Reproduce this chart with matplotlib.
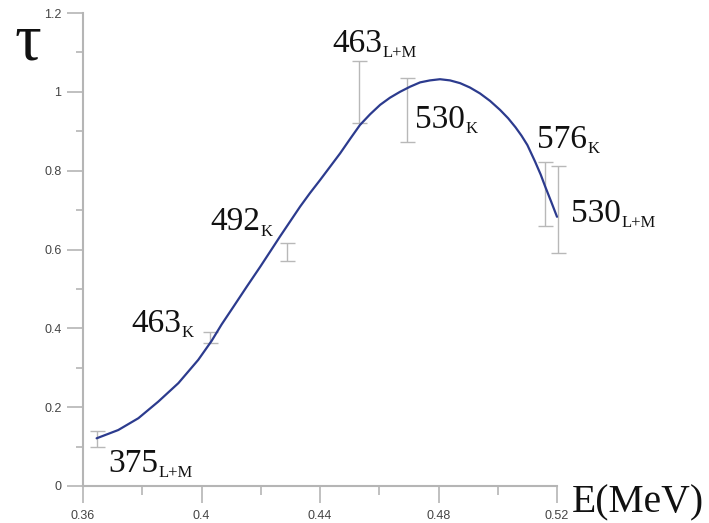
import matplotlib
matplotlib.use("Agg")
import matplotlib.pyplot as plt
import numpy as np

# ---- data ----
curve_E = [0.3646, 0.3719, 0.3787, 0.3854, 0.3922, 0.3989, 0.4034, 0.4068, 0.4108,
           0.4153, 0.4198, 0.4232, 0.4265, 0.4299, 0.4333, 0.4366, 0.4400, 0.4434,
           0.4468, 0.4502, 0.4535, 0.4569, 0.4603, 0.4636, 0.4670, 0.4704, 0.4738,
           0.4771, 0.4805, 0.4839, 0.4873, 0.4906, 0.4940, 0.4974, 0.5008, 0.5035,
           0.5060, 0.5080, 0.5100, 0.5126, 0.5145, 0.5160, 0.5180, 0.5200]
curve_tau = [0.121, 0.142, 0.172, 0.214, 0.261, 0.320, 0.368, 0.410, 0.455,
             0.506, 0.556, 0.595, 0.633, 0.671, 0.709, 0.743, 0.776, 0.810,
             0.844, 0.881, 0.916, 0.943, 0.967, 0.985, 1.000, 1.013, 1.024,
             1.029, 1.032, 1.029, 1.022, 1.011, 0.996, 0.977, 0.954, 0.933,
             0.910, 0.889, 0.865, 0.823, 0.790, 0.760, 0.722, 0.683]

err_E = [0.3647, 0.4029, 0.4289, 0.4533, 0.4692, 0.5160, 0.5203]
err_lo = [0.099, 0.363, 0.571, 0.920, 0.873, 0.660, 0.591]
err_hi = [0.140, 0.391, 0.616, 1.078, 1.034, 0.821, 0.812]

label_main = ["375", "463", "492", "463", "530", "576", "530"]
label_sub = ["L+M", "K", "K", "L+M", "K", "K", "L+M"]
# label anchor positions (left, baseline) in data coords
label_pos = [(0.3684, 0.036), (0.3762, 0.391), (0.4029, 0.649), (0.4441, 1.101),
             (0.4721, 0.908), (0.5133, 0.858), (0.5247, 0.670)]

x_ticks = [0.36, 0.40, 0.44, 0.48, 0.52]
x_ticklabels = ["0.36", "0.4", "0.44", "0.48", "0.52"]
y_ticks = [0, 0.2, 0.4, 0.6, 0.8, 1.0, 1.2]
y_ticklabels = ["0", "0.2", "0.4", "0.6", "0.8", "1", "1.2"]

W, H = 709, 523
fig = plt.figure(figsize=(W / 100, H / 100), dpi=100)
ax = fig.add_axes([83 / W, 1 - 486 / H, (557 - 83) / W, (486 - 13) / H])

ax.set_xlim(0.36, 0.52)
ax.set_ylim(0, 1.2)

spine_col = "#b5b5b5"
for s in ["top", "right"]:
    ax.spines[s].set_visible(False)
for s in ["left", "bottom"]:
    ax.spines[s].set_color(spine_col)
    ax.spines[s].set_linewidth(1.5)

ax.set_xticks(x_ticks)
ax.set_xticklabels(x_ticklabels)
ax.set_yticks(y_ticks)
ax.set_yticklabels(y_ticklabels)
ax.set_xticks([0.38, 0.42, 0.46, 0.50], minor=True)
ax.set_yticks([0.1, 0.3, 0.5, 0.7, 0.9, 1.1], minor=True)
ax.tick_params(axis="both", which="both", direction="out", color=spine_col, width=1.2,
               labelcolor="#444444", labelsize=9)
ax.tick_params(axis="y", which="major", length=11.5, pad=4)
ax.tick_params(axis="y", which="minor", length=5)
ax.tick_params(axis="x", which="major", length=12, pad=5.5)
ax.tick_params(axis="x", which="minor", length=6.5)
for lab in ax.get_xticklabels() + ax.get_yticklabels():
    lab.set_fontfamily("Liberation Sans")

# error bars
err_E_a = np.array(err_E)
lo = np.array(err_lo)
hi = np.array(err_hi)
mid = (lo + hi) / 2
half = (hi - lo) / 2
ax.errorbar(err_E_a, mid, yerr=half, fmt="none", ecolor="#b8b8b8", elinewidth=1.0,
            capsize=5.4, capthick=1.0, clip_on=False, zorder=2)

# curve
ax.plot(curve_E, curve_tau, color="#2c3b8e", lw=1.6, clip_on=False, zorder=3,
        solid_capstyle="round", solid_joinstyle="round")

# labels
for m, s, (lx, ly) in zip(label_main, label_sub, label_pos):
    t = ax.text(lx, ly, m, fontsize=24, family="Liberation Serif", color="#111111",
                ha="left", va="baseline", clip_on=False)
    ax.annotate(s, xy=(1, 0), xycoords=t, xytext=(0.5, 1.2), textcoords="offset points",
                fontsize=12, family="Liberation Serif", color="#111111",
                ha="left", va="baseline", annotation_clip=False)

fig.text(14 / W, 1 - 60 / H, "τ", fontsize=48, family="Liberation Serif",
         ha="left", va="baseline", color="#111111")
fig.text(572 / W, 1 - 512 / H, "E(MeV)", fontsize=28.5, family="Liberation Serif",
         ha="left", va="baseline", color="#111111")

fig.savefig("out.png", dpi=100)
